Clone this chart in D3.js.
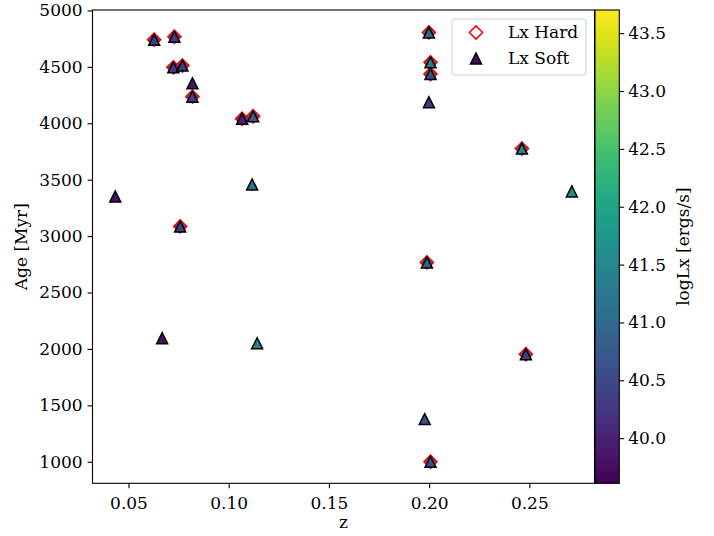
<!DOCTYPE html>
<html><head><meta charset="utf-8">
<script src="https://cdn.jsdelivr.net/npm/d3@7"></script>
<style>body{margin:0;background:#fff}svg{display:block}text{font-family:"DejaVu Serif",serif}</style>
</head><body><svg id="c" width="714" height="536"></svg>
<script>
const z      = [0.0628,0.0729,0.0724,0.0769,0.0819,0.0819,0.1067,0.1122,0.1117,0.0434,0.0758,0.0668,0.1142,0.1999,0.2007,0.2007,0.1999,0.2463,0.2712,0.1989,0.2483,0.1978,0.2007];
const age    = [4741,4767,4496,4511,4354,4236,4040,4062,3457,3351,3086,2095,2050,4805,4540,4437,4186,3776,3396,2767,1953,1378,1000];
const lxSoft = [40.3,40.3,40.3,40.3,39.85,40.4,40.0,40.8,41.2,39.8,40.4,39.8,41.4,41.0,41.3,40.5,40.3,41.4,41.7,40.8,40.4,40.6,40.5];
const lxHard = [40.6,40.6,40.6,40.6,null,40.8,40.6,41.0,null,null,40.8,null,null,41.3,41.4,41.3,null,41.5,null,41.3,41.2,null,41.3];
const xTicks = [0.05,0.10,0.15,0.20,0.25];
const yTicks = [1000,1500,2000,2500,3000,3500,4000,4500,5000];
const cTicks = [40.0,40.5,41.0,41.5,42.0,42.5,43.0,43.5];
const xDomain = [0.03204,0.28252], yDomain = [809,5004], cDomain = [39.61,43.70];

const svg = d3.select("#c");
const L=92.5, R=594.5, T=10, B=483.3;
const x = d3.scaleLinear().domain(xDomain).range([L,R]);
const y = d3.scaleLinear().domain(yDomain).range([B,T]);
const col = d3.scaleSequential(d3.interpolateViridis).domain(cDomain);
const FS = "17px";

// axes
const gx = svg.append("g").attr("transform",`translate(0,${B})`)
  .call(d3.axisBottom(x).tickValues(xTicks).tickFormat(d3.format(".2f")).tickSizeOuter(0).tickSize(4.9).tickPadding(5));
const gy = svg.append("g").attr("transform",`translate(${L},0)`)
  .call(d3.axisLeft(y).tickValues(yTicks).tickFormat(d3.format("d")).tickSizeOuter(0).tickSize(4.9).tickPadding(5));
[gx,gy].forEach(g=>{g.select(".domain").remove();g.selectAll("line").attr("stroke","#000").attr("stroke-width",1.1);g.selectAll("text").attr("font-size",FS).attr("fill","#000").attr("font-family","DejaVu Serif");});
gx.selectAll("text").attr("dy","0.95em");
svg.append("rect").attr("x",L).attr("y",T).attr("width",R-L).attr("height",B-T).attr("fill","none").attr("stroke","#000").attr("stroke-width",1.1);

// labels
svg.append("text").attr("x",(L+R)/2).attr("y",528).attr("text-anchor","middle").attr("font-size",FS).text("z");
svg.append("text").attr("transform",`translate(27,${(T+B)/2}) rotate(-90)`).attr("text-anchor","middle").attr("font-size",FS).text("Age [Myr]");

// points
const idx = d3.range(z.length);
const tri = d3.symbol().type({draw(ctx,s){const h=Math.sqrt(s)/2;ctx.moveTo(0,-h);ctx.lineTo(h,h);ctx.lineTo(-h,h);ctx.closePath();}}).size(11*11);
const dia = (h)=>`M0,${-h}L${h},0L0,${h}L${-h},0Z`;
svg.append("g").selectAll("path").data(idx.filter(i=>lxHard[i]!=null)).join("path")
  .attr("transform",i=>`translate(${x(z[i])},${y(age[i])})`)
  .attr("d",dia(6.6)).attr("fill",i=>col(lxHard[i])).attr("stroke","#ff0000").attr("stroke-width",1.5);
svg.append("g").selectAll("path").data(idx).join("path")
  .attr("transform",i=>`translate(${x(z[i])},${y(age[i])})`)
  .attr("d",tri).attr("fill",i=>col(lxSoft[i])).attr("stroke","#000").attr("stroke-width",1.5);

// legend
const lg = svg.append("g");
lg.append("rect").attr("x",452).attr("y",19).attr("width",134).attr("height",56).attr("rx",3).attr("fill","#fff").attr("fill-opacity",0.8).attr("stroke","#cccccc").attr("stroke-width",1);
lg.append("path").attr("transform","translate(476,32.5)").attr("d",dia(6.6)).attr("fill","#fff").attr("stroke","#ff0000").attr("stroke-width",1.5);
lg.append("path").attr("transform","translate(476,58.5)").attr("d",tri).attr("fill",col(39.75)).attr("stroke","#000").attr("stroke-width",1.5);
lg.append("text").attr("x",508).attr("y",32.5).attr("dy","0.35em").attr("font-size",FS).text("Lx Hard");
lg.append("text").attr("x",508).attr("y",58.5).attr("dy","0.35em").attr("font-size",FS).text("Lx Soft");

// colorbar
const CL=595, CR=619.3;
const defs = svg.append("defs");
const grad = defs.append("linearGradient").attr("id","vg").attr("x1","0").attr("y1","1").attr("x2","0").attr("y2","0");
d3.range(0,1.0001,0.05).forEach(t=>grad.append("stop").attr("offset",t).attr("stop-color",d3.interpolateViridis(t)));
svg.append("rect").attr("x",CL).attr("y",T).attr("width",CR-CL).attr("height",B-T).attr("fill","url(#vg)").attr("stroke","#000").attr("stroke-width",1.1);
const cy = d3.scaleLinear().domain(cDomain).range([B,T]);
const gc = svg.append("g").attr("transform",`translate(${CR},0)`)
  .call(d3.axisRight(cy).tickValues(cTicks).tickFormat(d3.format(".1f")).tickSizeOuter(0).tickSize(4.9).tickPadding(4));
gc.select(".domain").remove();
gc.selectAll("line").attr("stroke","#000").attr("stroke-width",1.1);
gc.selectAll("text").attr("font-size",FS).attr("fill","#000").attr("font-family","DejaVu Serif");
svg.append("text").attr("transform",`translate(689,${(T+B)/2}) rotate(-90)`).attr("text-anchor","middle").attr("font-size",FS).text("logLx [ergs/s]");
</script></body></html>
